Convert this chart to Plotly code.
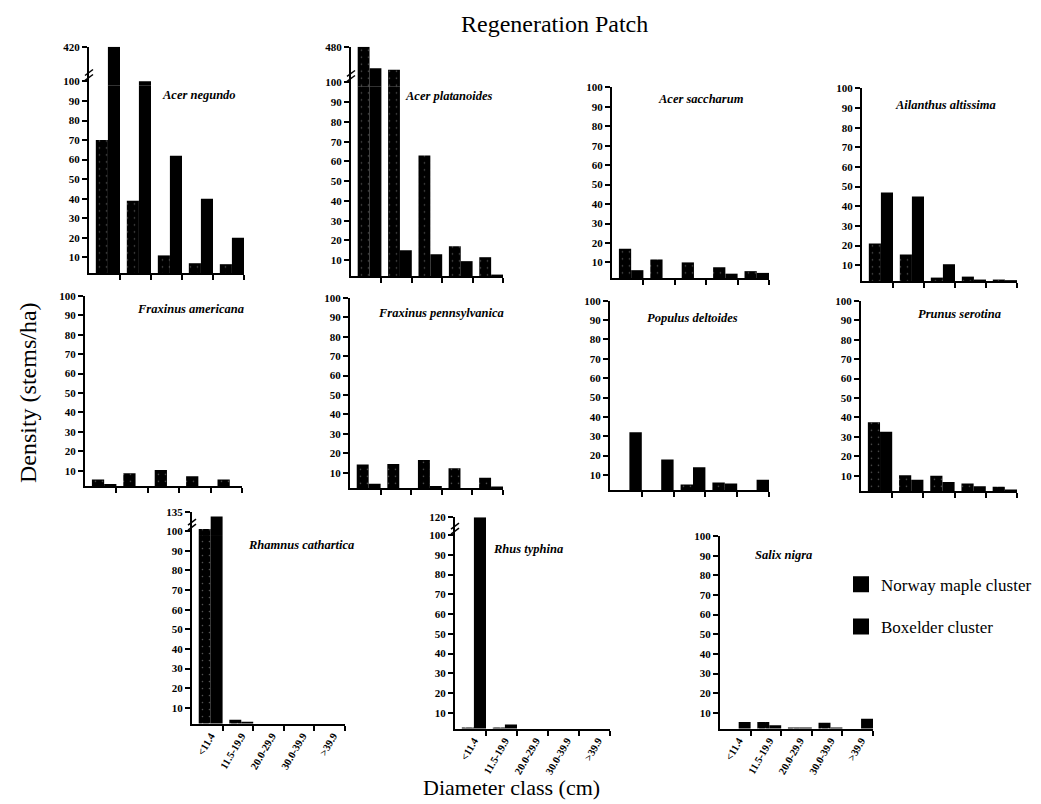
import plotly.graph_objects as go

W, H = 1041, 804

# ---------------- data ----------------
species = ["Acer negundo", "Acer platanoides", "Acer saccharum", "Ailanthus altissima",
           "Fraxinus americana", "Fraxinus pennsylvanica", "Populus deltoides", "Prunus serotina",
           "Rhamnus cathartica", "Rhus typhina", "Salix nigra"]
diameter_classes = ["<11.4", "11.5-19.9", "20.0-29.9", "30.0-39.9", ">39.9"]

norway_maple = [
    [70, 39, 11, 7, 6.5],
    [480, 235, 63, 17, 11.5],
    [17, 11.5, 10, 7.5, 5.5],
    [21, 15.5, 3.7, 4.2, 2.7],
    [5.6, 8.7, 10.4, 7.2, 5.6],
    [14.3, 14.6, 16.6, 12.4, 7.5],
    [0, 0, 5, 6, 0],
    [37.5, 10.3, 10, 6, 4.4],
    [104, 4, 1, 1, 1],
    [2.5, 2.5, 1, 1, 1],
    [0, 5.4, 2.5, 5, 0],
]
boxelder = [
    [420, 101, 62, 40, 20],
    [250, 15, 13, 9.5, 2.7],
    [6, 0, 0, 4.2, 4.6],
    [47, 45, 10.5, 2.7, 2.4],
    [3.2, 0, 0, 0, 1.5],
    [4.4, 0, 3.2, 0, 3],
    [32, 18, 14, 5.5, 7.5],
    [32.7, 8, 6.8, 4.6, 2.9],
    [127, 2.9, 1, 1, 1],
    [120, 4, 1, 1, 1],
    [5.4, 3.7, 2.5, 2.5, 7],
]
break_top = [420, 480, None, None, None, None, None, None, 135, 120, None]
y_ticks = [10, 20, 30, 40, 50, 60, 70, 80, 90, 100]

# ---------------- layout geometry (pixels) ----------------
# x_left, x_right, y_at_100, y_base, y_top_of_break
geom = [
    (89, 244, 76, 269, 41),
    (351, 503, 77, 272, 41),
    (612, 769, 82, 274, None),
    (862, 1017, 83, 277, None),
    (85, 242, 292, 484, None),
    (350, 503, 294, 486, None),
    (610, 769, 297, 488, None),
    (861, 1017, 297, 489, None),
    (192, 345, 529, 723, 510),
    (455, 610, 533, 728, 515),
    (720, 873, 534, 728, None),
]
label_pos = [(199, 90), (449, 91), (701, 94), (945, 100), (190, 305), (441, 309),
             (692, 314), (959, 310), (301, 543), (528, 547), (783, 553)]
bottom_row = {8, 9, 10}

def px(x):
    return x / W

def py(y):
    return 1 - y / H

FONT = "Liberation Serif"
tickfont = dict(family=FONT, size=11, color="black", weight="bold")

fig = go.Figure()
layout = dict(
    width=W, height=H, margin=dict(l=0, r=0, t=0, b=0),
    paper_bgcolor="white", plot_bgcolor="white",
    barmode="overlay", showlegend=True,
)
shapes = []
annotations = []

x_idx = list(range(len(diameter_classes)))
minor_vals = [i + 0.39 for i in range(len(diameter_classes))]
minor_vals[-1] = 4.388

norway_marker = dict(color="black", line=dict(width=0),
                     pattern=dict(shape=".", bgcolor="black", fgcolor="#555555",
                                  size=7, solidity=0.04, fillmode="replace"))
box_marker = dict(color="black", line=dict(width=0))

OVERLAP = 4  # px the upper (broken) segment extends below the 100 mark


def above_break(vals):
    return [v if v > 100 else None for v in vals]


yn = 0
for i, sp in enumerate(species):
    xl, xr, y100, ybase, ytop = geom[i]
    xn = i + 1
    xname = "xaxis" if xn == 1 else f"xaxis{xn}"
    xref = "x" if xn == 1 else f"x{xn}"
    yn += 1
    ylow = yn
    ylname = "yaxis" if ylow == 1 else f"yaxis{ylow}"
    ylref = "y" if ylow == 1 else f"y{ylow}"

    layout[xname] = dict(
        domain=[px(xl), px(xr)], anchor=ylref, range=[-0.61, 4.39],
        showline=True, linecolor="black", linewidth=2, showgrid=False, zeroline=False,
        tickmode="array", tickvals=x_idx, ticktext=diameter_classes, ticks="",
        showticklabels=(i in bottom_row), tickangle=-60,
        tickfont=dict(family=FONT, size=10.5, color="black", weight="bold"),
        minor=dict(tickmode="array", tickvals=minor_vals, ticks="outside", ticklen=5,
                   tickwidth=1.5, tickcolor="black", showgrid=False),
        fixedrange=True,
    )
    layout[ylname] = dict(
        domain=[py(ybase), py(y100)], anchor=xref, range=[2, 100],
        showline=True, linecolor="black", linewidth=2, showgrid=False, zeroline=False,
        tickmode="array", tickvals=y_ticks, ticks="outside", ticklen=5, tickwidth=1.5,
        tickcolor="black", tickfont=tickfont, fixedrange=True,
    )
    fig.add_trace(go.Bar(x=x_idx, y=norway_maple[i], xaxis=xref, yaxis=ylref,
                         width=0.39, offset=-0.39, marker=norway_marker, showlegend=False,
                         name="Norway maple cluster"))
    fig.add_trace(go.Bar(x=x_idx, y=boxelder[i], xaxis=xref, yaxis=ylref,
                         width=0.39, offset=0, marker=box_marker, showlegend=False,
                         name="Boxelder cluster"))

    if break_top[i] is not None:
        yn += 1
        yuname = f"yaxis{yn}"
        yuref = f"y{yn}"
        top = break_top[i]
        per_px = (top - 100) / (y100 - ytop)
        layout[yuname] = dict(
            domain=[py(y100 + OVERLAP), py(ytop)], anchor=xref,
            range=[100 - OVERLAP * per_px, top],
            showline=True, linecolor="black", linewidth=2, showgrid=False, zeroline=False,
            tickmode="array", tickvals=[top], ticks="outside", ticklen=5, tickwidth=1.5,
            tickcolor="black", tickfont=tickfont, fixedrange=True,
        )
        fig.add_trace(go.Bar(x=x_idx, y=above_break(norway_maple[i]), xaxis=xref, yaxis=yuref,
                             width=0.39, offset=-0.39, marker=norway_marker, showlegend=False))
        fig.add_trace(go.Bar(x=x_idx, y=above_break(boxelder[i]), xaxis=xref, yaxis=yuref,
                             width=0.39, offset=0, marker=box_marker, showlegend=False))
        # axis-break marks
        for dy in (4, 9):
            yb = y100 - dy
            shapes.append(dict(type="line", xref="paper", yref="paper",
                               x0=px(xl - 4), y0=py(yb + 3), x1=px(xl + 4), y1=py(yb - 3),
                               line=dict(color="black", width=1.5)))

    lx, ly = label_pos[i]
    annotations.append(dict(
        text=sp, x=px(lx), y=py(ly), xref="paper", yref="paper", showarrow=False,
        xanchor="center", yanchor="middle",
        font=dict(family=FONT, size=12.5, color="black", weight="bold", style="italic"),
    ))

annotations += [
    dict(text="Regeneration Patch", x=px(554), y=py(18), xref="paper", yref="paper",
         showarrow=False, xanchor="center", yanchor="middle",
         font=dict(family=FONT, size=24, color="black")),
    dict(text="Density (stems/ha)", x=px(28), y=py(390), xref="paper", yref="paper",
         showarrow=False, xanchor="center", yanchor="middle", textangle=-90,
         font=dict(family=FONT, size=24, color="black")),
    dict(text="Diameter class (cm)", x=px(511), y=py(787), xref="paper", yref="paper",
         showarrow=False, xanchor="center", yanchor="middle",
         font=dict(family=FONT, size=22, color="black")),
]

# legend entries
fig.add_trace(go.Scatter(x=[None], y=[None], mode="markers", name="Norway maple cluster",
                         legendgroup="nm",
                         marker=dict(symbol="square", size=16, color="black",
                                     line=dict(width=0))))
fig.add_trace(go.Scatter(x=[None], y=[None], mode="markers", name="Boxelder cluster",
                         legendgroup="bx",
                         marker=dict(symbol="square", size=16, color="black",
                                     line=dict(width=0))))

layout["legend"] = dict(
    x=px(841), y=py(565), xanchor="left", yanchor="top", traceorder="grouped",
    tracegroupgap=17, bgcolor="rgba(0,0,0,0)",
    font=dict(family=FONT, size=17, color="black"),
)
layout["shapes"] = shapes
layout["annotations"] = annotations
fig.update_layout(**layout)

fig.write_html("out.html")
